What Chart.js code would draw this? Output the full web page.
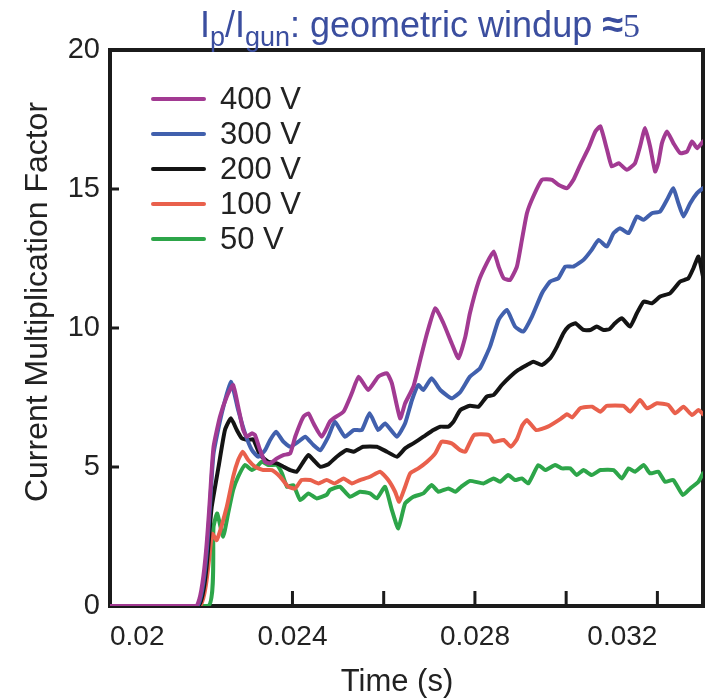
<!DOCTYPE html>
<html><head><meta charset="utf-8">
<script src="https://cdn.jsdelivr.net/npm/chart.js@4.4.1/dist/chart.umd.min.js"></script>
<style>html,body{margin:0;padding:0;background:#fff;}#wrap{width:711px;height:699px;}</style>
</head><body><div id="wrap"><canvas id="c" width="711" height="699"></canvas></div>
<script>
const seriesLabels = ['400 V','300 V','200 V','100 V','50 V'];
const seriesColors = ['#a23a92','#4160ad','#141414','#e9604c','#2da549'];

const t400 = [0.02,0.0219,0.02227,0.02241,0.02256,0.0227,0.02281,0.02292,0.023,0.02311,0.02318,0.02329,0.0234,0.02351,0.02366,0.0238,0.02395,0.02406,0.02424,0.02435,0.02446,0.02464,0.02482,0.0249,0.02512,0.0253,0.02545,0.02566,0.02588,0.02607,0.02618,0.02636,0.02647,0.02665,0.0268,0.02695,0.02713,0.02731,0.02749,0.02764,0.02779,0.02789,0.02808,0.02826,0.02841,0.02852,0.02863,0.02877,0.02892,0.02903,0.02914,0.02928,0.02947,0.02969,0.02983,0.03002,0.03016,0.03031,0.03049,0.03064,0.03075,0.03089,0.031,0.03115,0.03133,0.03151,0.03162,0.03173,0.03184,0.03195,0.03202,0.0321,0.03221,0.03235,0.0325,0.03265,0.03276,0.03287,0.033];
const v400 = [0,0,5.73,6.81,7.53,7.95,7.17,6.33,6.09,6.21,6.15,5.61,5.19,5.13,5.31,5.43,5.49,6.09,6.81,6.93,6.57,6.09,6.63,6.75,6.99,7.65,8.25,7.77,8.25,8.37,8.01,6.75,7.29,7.89,8.85,9.81,10.71,10.17,9.45,8.91,9.69,10.53,11.67,12.33,12.75,12.21,11.79,11.73,12.21,13.17,14.13,14.73,15.33,15.33,15.15,15.03,15.33,15.87,16.47,17.07,17.25,16.45,15.81,15.93,15.69,15.93,16.53,17.19,16.53,15.63,15.93,16.65,17.07,16.65,16.29,16.35,16.71,16.47,16.71];

const t300 = [0.02,0.02192,0.02227,0.02245,0.02265,0.02281,0.02296,0.02311,0.02325,0.0234,0.02351,0.02364,0.0238,0.02395,0.02413,0.02428,0.02446,0.02461,0.02479,0.02493,0.02515,0.02534,0.02552,0.02569,0.02588,0.02603,0.02629,0.02647,0.02662,0.02676,0.02687,0.02705,0.02724,0.02749,0.02768,0.02789,0.02811,0.02833,0.02852,0.0287,0.02888,0.02906,0.02925,0.02947,0.02965,0.02983,0.02998,0.03016,0.03038,0.03056,0.03071,0.03089,0.03104,0.03118,0.03137,0.03155,0.0317,0.03188,0.03206,0.03221,0.03235,0.03246,0.03257,0.03272,0.03287,0.033];
const v300 = [0,0,5.49,6.93,8.07,7.05,6.21,5.61,5.37,5.61,5.97,6.27,5.91,5.73,5.91,6.09,5.79,5.6,6.1,6.63,6.09,6.33,6.33,6.93,6.33,6.57,6.09,6.57,7.41,7.95,7.77,8.19,7.77,7.47,7.7,8.25,8.55,9.33,10.29,10.65,10.05,9.87,10.41,11.25,11.67,11.79,12.21,12.21,12.45,12.81,13.17,12.93,13.41,13.59,13.41,14.01,13.89,14.13,14.19,14.61,15.03,14.49,14.01,14.49,14.85,15.03];

const t200 = [0.02,0.02194,0.02223,0.02238,0.02252,0.02265,0.02278,0.02289,0.02303,0.02314,0.02329,0.02347,0.02366,0.0238,0.02395,0.02409,0.02424,0.02435,0.02446,0.02461,0.02479,0.02497,0.02519,0.02534,0.02555,0.02585,0.02607,0.02629,0.02647,0.02665,0.02687,0.02709,0.02724,0.02742,0.02753,0.02768,0.02789,0.02808,0.02826,0.02841,0.02859,0.02877,0.02895,0.02914,0.02928,0.02947,0.02965,0.0298,0.02994,0.03005,0.0302,0.03038,0.03053,0.03067,0.03082,0.03095,0.03107,0.03122,0.0314,0.03155,0.0317,0.03188,0.03206,0.03228,0.0325,0.03268,0.03279,0.0329,0.033];
const v200 = [0,0,3.57,5.01,6.33,6.75,6.33,6.03,5.97,6.0,5.43,5.19,5.13,5.01,4.89,4.83,5.19,5.43,5.25,5.01,5.1,5.37,5.61,5.55,5.73,5.73,5.55,5.37,5.67,5.85,6.09,6.33,6.45,6.45,6.63,7.05,7.2,7.17,7.53,7.59,7.95,8.25,8.49,8.67,8.79,8.67,8.91,9.33,9.81,10.05,10.17,9.93,9.93,10.05,9.93,9.96,10.17,10.35,10.05,10.53,10.95,10.89,11.13,11.25,11.67,11.79,12.15,12.57,11.85];

const t100 = [0.02,0.02197,0.02224,0.02234,0.02256,0.0227,0.02281,0.02291,0.02303,0.02318,0.02336,0.02355,0.02373,0.02391,0.02406,0.0242,0.02439,0.02457,0.02475,0.02493,0.02512,0.0253,0.02548,0.0257,0.02592,0.0261,0.02625,0.02634,0.02647,0.02658,0.02676,0.02695,0.02713,0.02727,0.02749,0.02768,0.02779,0.02798,0.02831,0.02841,0.02863,0.02879,0.02892,0.02904,0.02914,0.02934,0.0296,0.02987,0.03002,0.03013,0.03031,0.03057,0.03075,0.03089,0.03126,0.0314,0.03162,0.03177,0.03199,0.03224,0.03239,0.03257,0.03276,0.0329,0.033];
const v100 = [0,0,2.6,2.37,3.57,4.65,5.25,5.55,5.25,5.01,4.89,4.89,4.65,4.29,4.23,4.53,4.53,4.41,4.53,4.41,4.59,4.41,4.53,4.65,4.83,4.53,4.11,3.75,4.29,4.77,4.95,5.19,5.49,5.91,5.85,5.6,5.55,6.15,6.15,5.91,5.97,5.73,6.0,6.5,6.69,6.33,6.45,6.72,6.9,6.78,7.11,7.17,6.99,7.2,7.2,6.99,7.41,7.11,7.29,7.23,6.93,7.17,6.87,7.05,6.9];

const t50 = [0.02,0.02216,0.02227,0.02235,0.02248,0.02259,0.0227,0.02281,0.02296,0.02311,0.02322,0.02333,0.02347,0.02366,0.02377,0.02388,0.02402,0.02417,0.02435,0.02453,0.02475,0.02482,0.02504,0.02526,0.02548,0.0257,0.02585,0.02603,0.02618,0.02632,0.02647,0.02665,0.02687,0.02705,0.0272,0.02742,0.02757,0.0277,0.02789,0.02819,0.02841,0.02855,0.02873,0.02888,0.02903,0.02917,0.02939,0.02954,0.02976,0.02991,0.03009,0.03023,0.03038,0.03056,0.03075,0.03104,0.03122,0.03137,0.03151,0.0317,0.03184,0.03202,0.03217,0.03235,0.03256,0.03272,0.0329,0.033];
const v50 = [0,0,2.85,3.33,2.49,3.33,4.17,4.65,5.07,4.89,5.01,5.19,5.07,5.07,4.77,4.29,4.35,3.81,4.05,3.87,4.0,4.17,4.29,3.93,4.11,4.05,3.87,4.29,3.45,2.79,3.69,3.93,4.05,4.35,4.11,4.23,4.11,4.29,4.5,4.41,4.59,4.47,4.71,4.53,4.59,4.41,5.07,4.89,5.07,4.95,4.95,4.71,4.89,4.71,4.89,4.89,4.59,4.95,4.83,5.07,4.77,4.83,4.47,4.53,3.99,4.23,4.47,4.77];

const xTickValues = [0.02,0.022,0.024,0.026,0.028,0.03,0.032];
const xTickLabels = ['0.02','','0.024','','0.028','','0.032'];
const yTickValues = [0,5,10,15,20];
const yTickLabels = ['0','5','10','15','20'];

const FONT = '"Liberation Sans", Arial, Helvetica, sans-serif';
const times = [t400,t300,t200,t100,t50];
const values = [v400,v300,v200,v100,v50];

function pts(t,v){ const n=Math.min(t.length,v.length); const a=[]; for(let i=0;i<n;i++) a.push({x:t[i],y:v[i]}); return a; }

const datasets = seriesLabels.map((lab,i)=>({
  label: lab, data: pts(times[i],values[i]), borderColor: seriesColors[i], backgroundColor: seriesColors[i],
  borderWidth: 4, pointRadius: 0, tension: 0.15, fill: false, borderJoinStyle: 'round', borderCapStyle: 'round'
}));

function labelFor(vals, labs, v){ for(let i=0;i<vals.length;i++){ if(Math.abs(vals[i]-v)<1e-7) return labs[i]; } return ''; }

const decor = {
  id: 'decor',
  beforeDatasetsDraw(chart){
    const {ctx, chartArea:a, scales:{x,y}} = chart;
    ctx.save();
    ctx.strokeStyle = '#1b1b1b';
    ctx.lineWidth = 4;
    ctx.strokeRect(a.left, a.top, a.right-a.left, a.bottom-a.top);
    ctx.lineWidth = 3;
    xTickValues.forEach(v=>{ const px = x.getPixelForValue(v); ctx.beginPath(); ctx.moveTo(px, a.bottom); ctx.lineTo(px, a.bottom-15); ctx.stroke(); });
    yTickValues.forEach(v=>{ const py = y.getPixelForValue(v); ctx.beginPath(); ctx.moveTo(a.left, py); ctx.lineTo(a.left+9, py); ctx.stroke(); });
    ctx.restore();
  },
  afterDraw(chart){
    const {ctx} = chart;
    ctx.save();
    ctx.fillStyle = '#222';
    ctx.font = '31px ' + FONT;
    ctx.textAlign = 'center'; ctx.textBaseline = 'middle';
    ctx.fillText('Time (s)', 397, 682);
    ctx.translate(38, 302); ctx.rotate(-Math.PI/2);
    ctx.font = '32px ' + FONT;
    ctx.fillText('Current Multiplication Factor', 0, 0);
    ctx.setTransform(1,0,0,1,0,0);
    const col = '#3b4e9f';
    const big = '36px ' + FONT, small = '27px ' + FONT, approx = 'bold 38px ' + FONT, serif = '34px "Liberation Serif", "DejaVu Serif", serif';
    const parts = [['I',big,0],['p',small,9],['/I',big,0],['gun',small,9],[': geometric windup ',big,0],['\u2248',approx,0],['5',serif,0]];
    let w = 0; parts.forEach(p=>{ ctx.font=p[1]; w += ctx.measureText(p[0]).width; });
    let cx = 420 - w/2; const base = 37;
    ctx.fillStyle = col; ctx.textAlign = 'left'; ctx.textBaseline = 'alphabetic';
    parts.forEach(p=>{ ctx.font=p[1]; ctx.fillText(p[0], cx, base+p[2]); cx += ctx.measureText(p[0]).width; });
    chart.data.datasets.forEach((ds,i)=>{
      const yy = 99 + 35*i;
      ctx.strokeStyle = ds.borderColor; ctx.lineWidth = 4; ctx.lineCap='round';
      ctx.beginPath(); ctx.moveTo(153, yy); ctx.lineTo(204, yy); ctx.stroke();
      ctx.fillStyle = '#222'; ctx.font = '31px ' + FONT; ctx.textBaseline = 'middle'; ctx.textAlign='left';
      ctx.fillText(ds.label, 220, yy+1);
    });
    ctx.restore();
  }
};

new Chart(document.getElementById('c'), {
  type: 'line',
  data: { datasets },
  options: {
    responsive: false, animation: false, devicePixelRatio: 1,
    layout: { padding: { left: 0, right: 8, top: 50, bottom: 0 } },
    plugins: { legend: { display: false }, title: { display: false }, tooltip: { enabled: false } },
    scales: {
      x: {
        type: 'linear', min: 0.02, max: 0.033,
        afterBuildTicks: s => { s.ticks = xTickValues.map(v=>({value:v})); },
        afterFit: s => { s.height = 93; },
        grid: { display: false, drawTicks: false }, border: { display: false },
        ticks: { autoSkip: false, maxRotation: 0, padding: 14, color: '#222', font: { family: FONT, size: 28 },
          align: 'inner', callback: v => labelFor(xTickValues, xTickLabels, v) }
      },
      y: {
        type: 'linear', min: 0, max: 20,
        afterBuildTicks: s => { s.ticks = yTickValues.map(v=>({value:v})); },
        afterFit: s => { s.width = 110; },
        grid: { display: false, drawTicks: false }, border: { display: false },
        ticks: { padding: 10, color: '#222', font: { family: FONT, size: 29 }, callback: v => labelFor(yTickValues, yTickLabels, v) }
      }
    }
  },
  plugins: [decor]
});
</script></body></html>
